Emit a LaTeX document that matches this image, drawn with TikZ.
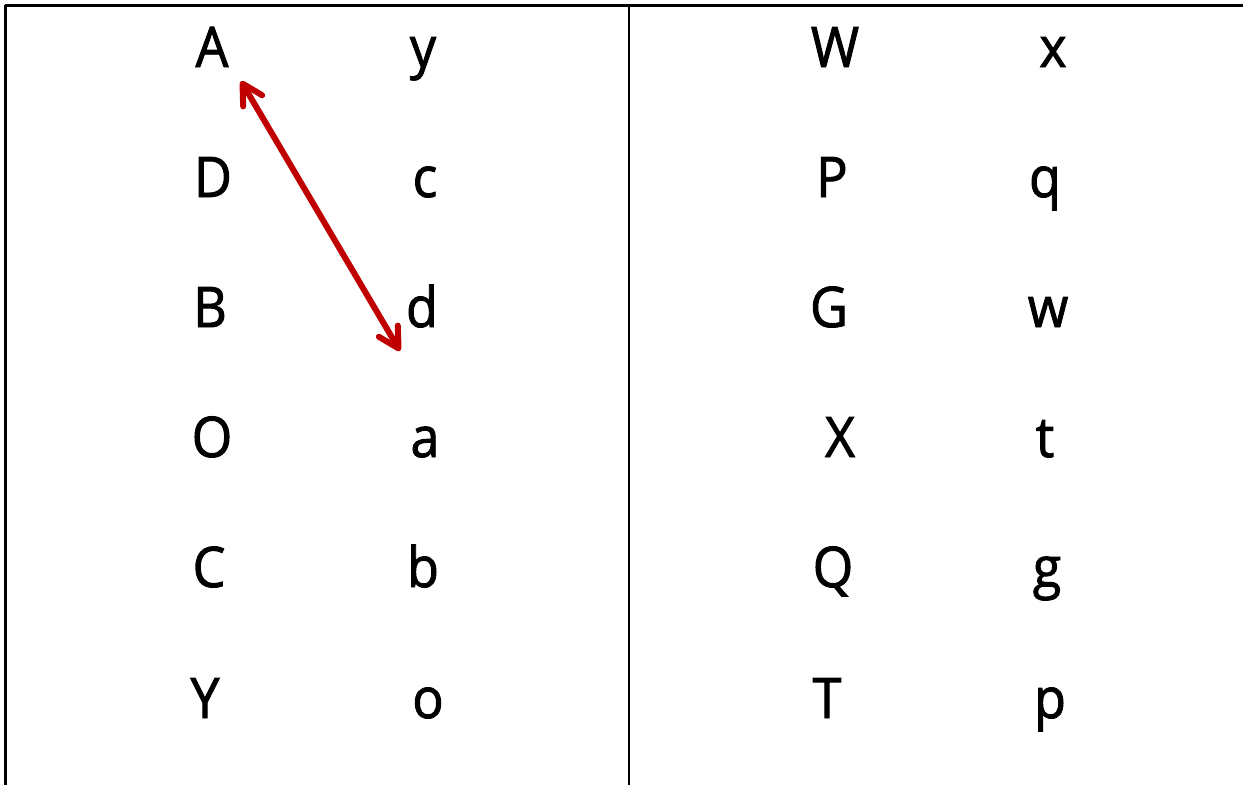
\documentclass[tikz,border=0pt]{standalone}
\usepackage{fontspec}
\setmainfont{Open Sans}[FakeBold=1.6,FakeStretch=0.93]
\usetikzlibrary{arrows.meta}
\begin{document}
\begin{tikzpicture}[x=1pt,y=-1pt,
  ltr/.style={anchor=base,inner sep=0pt,font=\fontsize{56}{60}\selectfont},
  rule/.style={draw=black,line width=3pt},
  thinrule/.style={draw=black,line width=2pt},
  link/.style={draw={rgb,255:red,192;green,0;blue,0},line width=6pt,line cap=round,line join=round,
    {Straight Barb[length=20pt,width=22pt,line width=6pt,round]}-{Straight Barb[length=20pt,width=22pt,line width=6pt,round]}}]
\useasboundingbox (0,0) rectangle (1243,785);
\fill[white] (0,0) rectangle (1243,785);
% frame lines
\coordinate (tl) at (5,5);
\coordinate (tr) at (1243,5);
\coordinate (bl) at (5,785);
\coordinate (mt) at (629,5);
\coordinate (mb) at (629,785);
\draw[rule] (tl) -- (tr);
\draw[rule] (tl) -- (bl);
\draw[thinrule] (mt) -- (mb);
% left table
\node[ltr] (A) at (212,67) {A};
\node[ltr] (y) at (423,67) {y};
\node[ltr] (D) at (213,197) {D};
\node[ltr] (c) at (425,197) {c};
\node[ltr] (B) at (210,327) {B};
\node[ltr] (d) at (422,327) {d};
\node[ltr] (O) at (212,457) {O};
\node[ltr] (a) at (425,457) {a};
\node[ltr] (C) at (209,587) {C};
\node[ltr] (b) at (423,587) {b};
\node[ltr] (Y) at (205,718) {Y};
\node[ltr] (o) at (428,718) {o};
% right table
\node[ltr] (W) at (835,67) {W};
\node[ltr] (x) at (1053,67) {x};
\node[ltr] (P) at (832,197) {P};
\node[ltr] (q) at (1045,197) {q};
\node[ltr] (G) at (829,327) {G};
\node[ltr] (w) at (1048,327) {w};
\node[ltr] (X) at (840,457) {X};
\node[ltr] (t) at (1045,457) {t};
\node[ltr] (Q) at (833,587) {Q};
\node[ltr] (g) at (1047,587) {g};
\node[ltr] (T) at (827,718) {T};
\node[ltr] (p) at (1050,718) {p};
% arrow
\coordinate (s) at (241,81);
\coordinate (e) at (400,351);
\draw[link] (s) -- (e);
\end{tikzpicture}
\end{document}
